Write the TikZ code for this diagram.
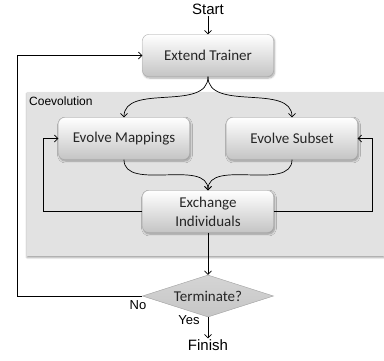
\documentclass[tikz,border=0pt]{standalone}
\usepackage{fontspec}
\setmainfont{Carlito}
\newfontfamily\arialf{Liberation Sans}
\usetikzlibrary{arrows.meta,shapes.geometric,shadows.blur}
\definecolor{regionfill}{HTML}{E2E2E2}
\definecolor{boxedge}{HTML}{A8A8A8}
\definecolor{boxbot}{HTML}{C4C4C4}
\definecolor{txt}{HTML}{262626}
\tikzset{
  box/.style={draw=boxedge, rounded corners=6pt, top color=white, bottom color=boxbot,
    minimum width=131pt, minimum height=42pt, inner sep=2pt, align=center, text=txt,
    font=\fontsize{15}{19}\selectfont,
    blur shadow={shadow xshift=1pt, shadow yshift=-1.5pt, shadow blur steps=6, shadow opacity=35}},
  decision/.style={diamond, draw=gray!75, top color=gray!33, bottom color=gray!45,
    shape aspect=3.1, minimum width=131pt, minimum height=42pt, inner sep=1pt, text=txt,
    font=\fontsize{15}{19}\selectfont},
  lbl/.style={font=\arialf\fontsize{15}{18}\selectfont, inner sep=1pt},
  smalllbl/.style={font=\arialf\fontsize{13}{15}\selectfont, inner sep=1pt},
  arr/.style={-{Straight Barb[length=3.5pt,width=7pt]}, line width=0.7pt, black},
}
\begin{document}
\begin{tikzpicture}[x=1pt, y=-1pt]
\useasboundingbox (0,0) rectangle (384,360);
% region
\fill[blur shadow={shadow xshift=0pt, shadow yshift=-1.5pt, shadow blur steps=4, shadow opacity=40}, regionfill] (27,92) rectangle (384,256);
\node[font=\arialf\fontsize{12}{14}\selectfont, anchor=west, inner sep=0pt] (coev) at (29,101) {Coevolution};

\node[lbl] (start) at (208,9) {Start};
\node[box] (et) at (208,55.5) {Extend Trainer};
\node[box] (em) at (124,138.5) {Evolve Mappings};
\node[box] (es) at (292,138.5) {Evolve Subset};
\node[box] (ex) at (208,211.5) {Exchange\\Individuals};
\node[decision] (dia) at (208,296) {Terminate?};
\node[lbl] (finish) at (208,345) {Finish};
\node[smalllbl] (no) at (138,305) {No};
\node[smalllbl] (yes) at (189,320) {Yes};

\coordinate (lp) at (17,0);
\coordinate (il) at (43,0);
\coordinate (ir) at (372,0);

\draw[arr] (start) -- (et);
\draw[arr] (et.south) .. controls (208,112) and (124,83) .. (em.north);
\draw[arr] (et.south) .. controls (208,112) and (292,83) .. (es.north);
\draw[arr] (em.south) .. controls (124,192) and (208,158) .. (ex.north);
\draw[arr] (es.south) .. controls (292,192) and (208,158) .. (ex.north);
\draw[arr] (ex.west) -- (ex.west -| il) |- (em.west);
\draw[arr] (ex.east) -- (ex.east -| ir) |- (es.east);
\draw[arr] (ex.south) -- (dia.north);
\draw[arr] (dia.west) -- (dia.west -| lp) |- (et.west);
\draw[arr] (dia.south) -- (finish);
\end{tikzpicture}
\end{document}
